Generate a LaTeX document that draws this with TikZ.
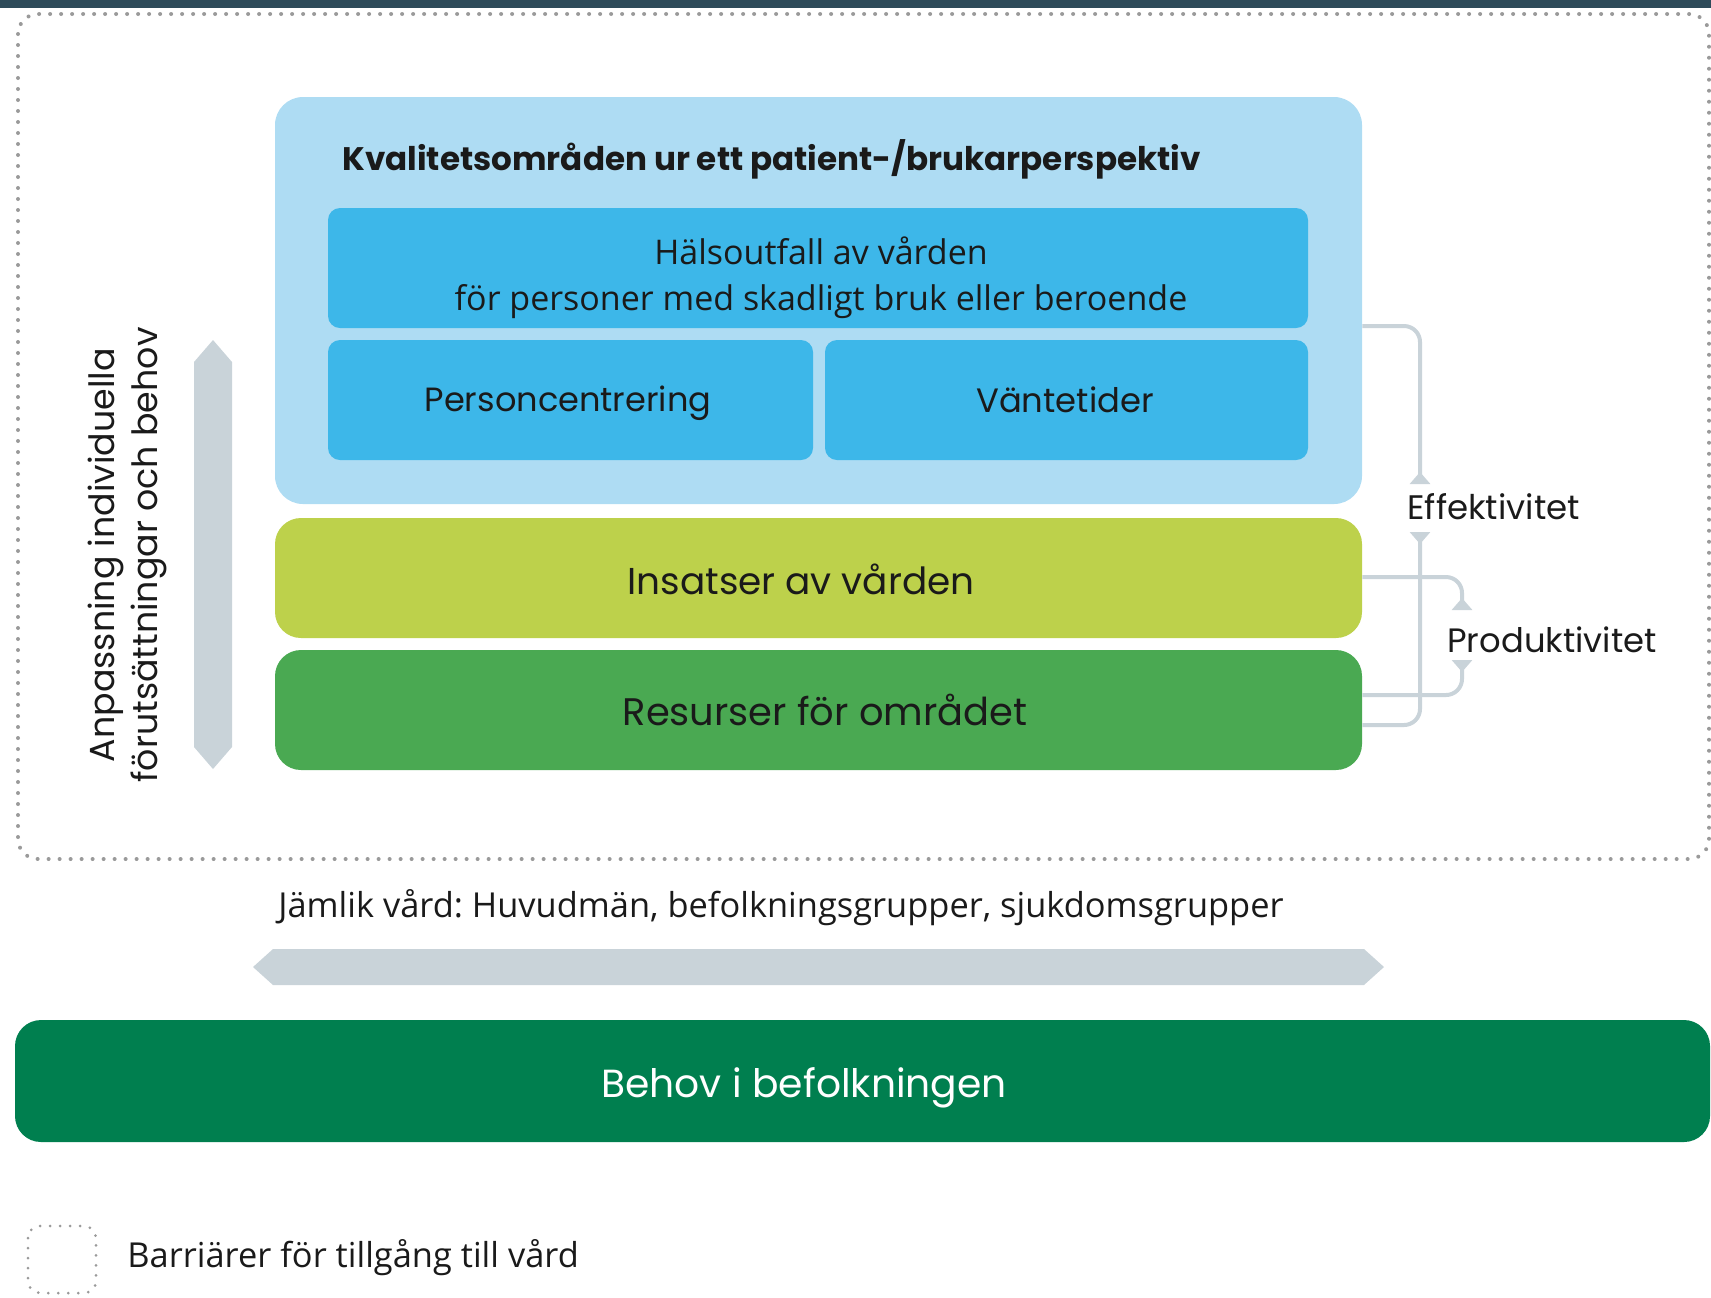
\documentclass[tikz,border=0pt]{standalone}
\usepackage{fontspec}
\setmainfont{Open Sans}
\newfontfamily\geofont{Poppins}
\usetikzlibrary{arrows.meta,fit}
\definecolor{topband}{HTML}{2E4B5A}
\definecolor{kvalblue}{HTML}{AEDCF3}
\definecolor{areablue}{HTML}{3DB7E9}
\definecolor{insatslime}{HTML}{BDD14B}
\definecolor{resursgreen}{HTML}{4AA952}
\definecolor{behovgreen}{HTML}{007F4F}
\definecolor{arrowgray}{HTML}{C9D3D9}
\definecolor{dotgray}{HTML}{9A9A9A}
\definecolor{textdark}{HTML}{1A1A1A}
\frenchspacing
\tikzset{
  box/.style={rounded corners=13pt, inner sep=0pt},
  lbl/.style={inner sep=0pt, text=textdark},
  dotframe/.style={draw=dotgray, line width=2pt, line cap=round,
    dash pattern=on 0pt off 5.5pt, rounded corners=10pt},
  bracket/.style={draw=arrowgray, line width=2pt, rounded corners=8pt,
    -{Triangle[reversed, width=10pt, length=6pt]}},
}
\begin{document}
\begin{tikzpicture}[x=0.5pt, y=-0.5pt]
\useasboundingbox (0,0) rectangle (1711,1297);
\fill[topband] (0,0) rectangle (1711,8);
% barrier frame
\draw[dotframe] (18,14) rectangle (1709,859);
% quality areas
\node[box, fill=kvalblue, rounded corners=14pt, fit={(275,97) (1362,504)}] (kval) {};
\node[lbl, anchor=west, font=\geofont\bfseries\fontsize{16.3}{19}\selectfont] (title) at (342,159)
  {Kvalitetsområden ur ett patient-/brukarperspektiv};
\node[box, fill=areablue, rounded corners=6pt, fit={(328,208) (1308,328)}] (halso) {};
\node[lbl, align=center, font=\fontsize{17}{23}\selectfont] (halsotext) at (821,278)
  {Hälsoutfall av vården\\för personer med skadligt bruk eller beroende};
\node[box, fill=areablue, rounded corners=6pt, fit={(328,340) (813,460)}] (person) {};
\node[lbl, font=\geofont\fontsize{16.8}{20}\selectfont] (persontext) at (568,403) {Personcentrering};
\node[box, fill=areablue, rounded corners=6pt, fit={(825,340) (1308,460)}] (vante) {};
\node[lbl, font=\geofont\fontsize{16.9}{20}\selectfont] (vantetext) at (1065,400) {Väntetider};
% interventions and resources
\node[box, fill=insatslime, fit={(275,518) (1362,638)}] (insats) {};
\node[lbl, font=\geofont\fontsize{18.7}{22}\selectfont] (insatstext) at (801,579) {Insatser av vården};
\node[box, fill=resursgreen, fit={(275,650) (1362,770)}] (resurs) {};
\node[lbl, font=\geofont\fontsize{19.2}{23}\selectfont] (resurstext) at (825,710) {Resurser för området};
% efficiency and productivity
\node[lbl, anchor=west, font=\geofont\fontsize{17}{20}\selectfont] (eff) at (1407,507) {Effektivitet};
\node[lbl, anchor=west, font=\geofont\fontsize{16.9}{20}\selectfont] (prod) at (1447,640) {Produktivitet};
\draw[bracket] (kval.east |- 0,326) -- (1420,326) -- (1420,484);
\draw[bracket] (resurs.east |- 0,725) -- (1420,725) -- (1420,532);
\draw[bracket] (insats.east |- 0,577) -- (1462,577) -- (1462,610);
\draw[bracket] (resurs.east |- 0,695) -- (1462,695) -- (1462,660);
% adaptation
\fill[arrowgray] (213,340) -- (232,362) -- (232,747) -- (213,769) -- (194,747) -- (194,362) -- cycle;
\node[lbl, rotate=90, align=center, font=\geofont\fontsize{17.4}{21.5}\selectfont] (anpass) at (127,555)
  {Anpassning individuella\\förutsättningar och behov};
% equity
\node[lbl, anchor=west, font=\fontsize{17.2}{20}\selectfont] (jamlik) at (278,908)
  {Jämlik vård: Huvudmän, befolkningsgrupper, sjukdomsgrupper};
\fill[arrowgray] (253,967) -- (273,949) -- (1364,949) -- (1384,967) -- (1364,985) -- (273,985) -- cycle;
% needs
\node[box, fill=behovgreen, fit={(15,1020) (1710,1142)}] (behov) {};
\node[lbl, text=white, font=\geofont\fontsize{19.6}{23}\selectfont] (behovtext) at (804,1088) {Behov i befolkningen};
% legend
\draw[dotframe, line width=1.5pt, dash pattern=on 0pt off 5pt, rounded corners=6pt]
  (28,1226) rectangle (96,1293);
\node[lbl, anchor=west, font=\fontsize{17.2}{20}\selectfont] (legend) at (127,1258)
  {Barriärer för tillgång till vård};
\end{tikzpicture}
\end{document}
